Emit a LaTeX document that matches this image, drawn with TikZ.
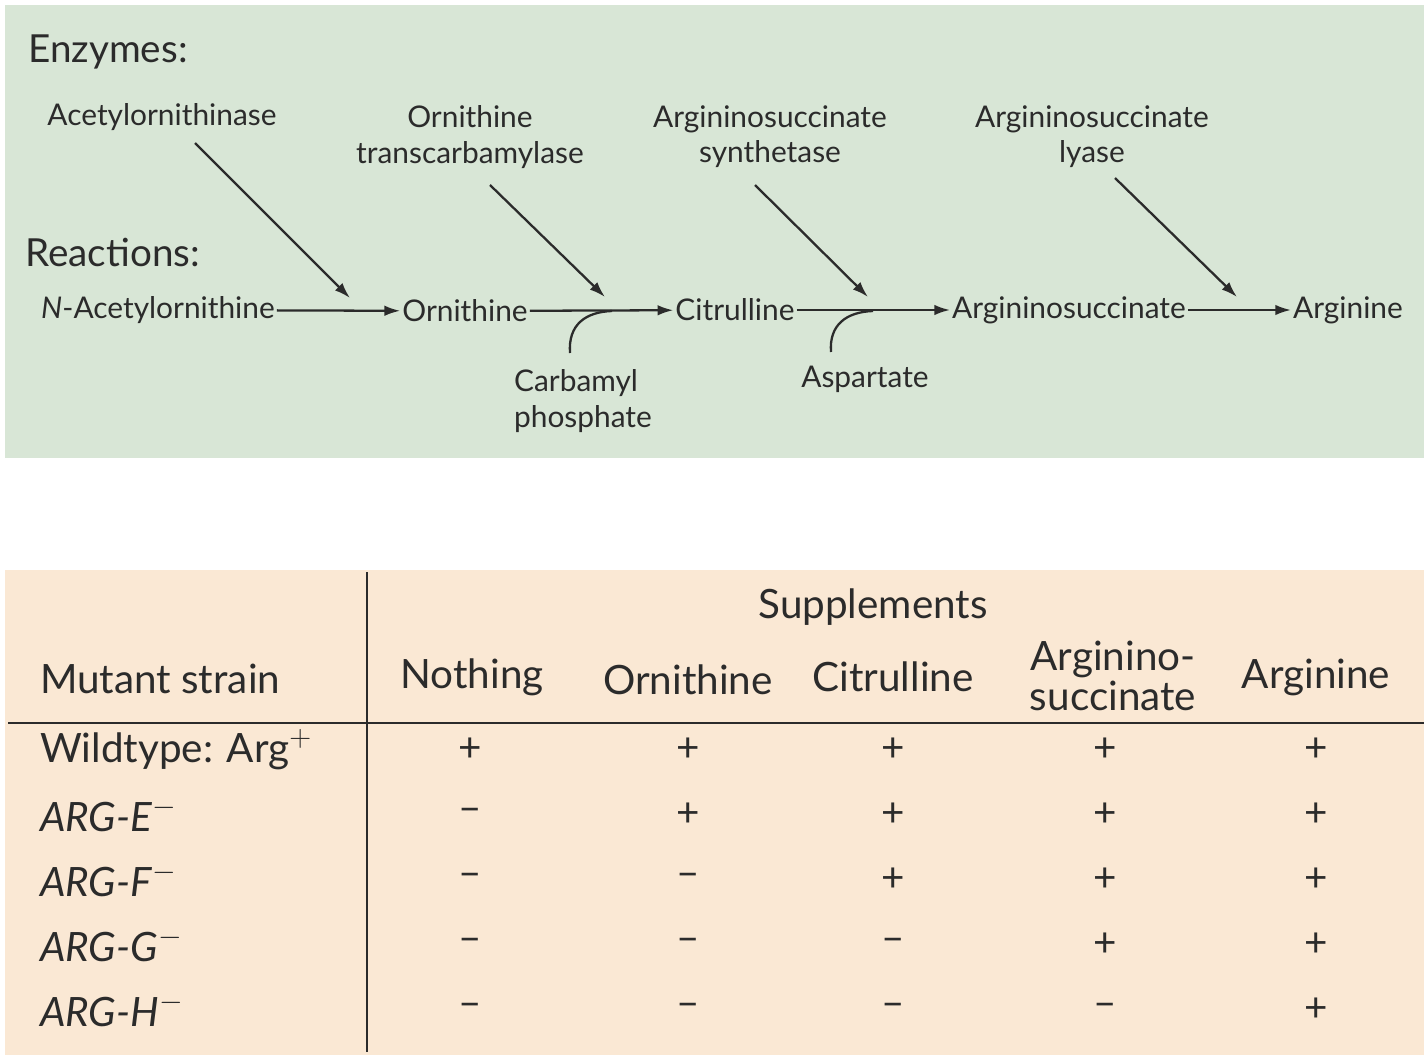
\documentclass[tikz,border=0pt]{standalone}
\usepackage{fontspec}
\setmainfont{Lato}
\usetikzlibrary{arrows.meta,positioning}
\definecolor{greenbg}{HTML}{D8E6D6}
\definecolor{beigebg}{HTML}{FAE8D4}
\definecolor{ink}{HTML}{2B2B2B}
\begin{document}
\begin{tikzpicture}[x=0.02cm,y=-0.02cm,
  txt/.style={font=\fontsize{17}{20}\selectfont,text=ink,inner sep=1pt},
  head/.style={font=\fontsize{22}{26}\selectfont,text=ink,anchor=west,inner sep=0pt},
  tab/.style={font=\fontsize{23}{27}\selectfont,text=ink,inner sep=1pt},
  arr/.style={-{Latex[length=9pt,width=6pt]},line width=1.3pt,draw=ink},
  ln/.style={line width=1.3pt,draw=ink}]
\useasboundingbox (0,0) rectangle (1424,1058);
\fill[greenbg] (5,5) rectangle (1424,458);
\fill[beigebg] (5,570) rectangle (1424,1055);

\node[head] (enz) at (28,52) {Enzymes:};
\node[head] (rea) at (25,252) {Reactions:};

\node[txt] (e1) at (162,117) {Acetylornithinase};
\node[txt,align=center] (e2) at (470,137) {Ornithine\\transcarbamylase};
\node[txt,align=center] (e3) at (770,137) {Argininosuccinate\\synthetase};
\node[txt,align=center] (e4) at (1092,137) {Argininosuccinate\\lyase};

\node[txt] (nac) at (158,310) {\textit{N}-Acetylornithine};
\node[txt] (orn) at (465,311) {Ornithine};
\node[txt] (cit) at (735,310) {Citrulline};
\node[txt] (ars) at (1069,310) {Argininosuccinate};
\node[txt] (arg) at (1348,310) {Arginine};
\node[txt,align=left,anchor=west] (cp) at (512,401) {Carbamyl\\phosphate};
\node[txt] (asp) at (865,379) {Aspartate};

\coordinate (t1) at (350,298);
\coordinate (t2) at (605,297);
\coordinate (t3) at (868,297);
\coordinate (t4) at (1237,297);
\coordinate (s2) at (195,143);
\coordinate (s3) at (490,185);
\coordinate (s4) at (755,185);
\coordinate (s5) at (1115,178);
\draw[arr] (s2) -- (t1);
\draw[arr] (s3) -- (t2);
\draw[arr] (s4) -- (t3);
\draw[arr] (s5) -- (t4);

\draw[arr] (nac) -- (orn);
\draw[arr] (orn) -- (cit);
\draw[arr] (cit) -- (ars);
\draw[arr] (ars) -- (arg);
\coordinate (c2) at (570,353);
\coordinate (c3) at (831,352);
\draw[ln] (c2) .. controls (568,325) and (585,312) .. (612,311);
\draw[ln] (c3) .. controls (829,325) and (846,312) .. (873,311);

\draw[ln,line width=1.6pt] (367,572) -- (367,1052);
\draw[ln,line width=1.6pt] (8,723) -- (1424,723);
\node[tab] (sup) at (873,607) {Supplements};
\node[tab,anchor=west] (ms) at (38,679) {Mutant strain};
\node[tab] (h1) at (472,677) {Nothing};
\node[tab] (h2) at (688,680) {Ornithine};
\node[tab] (h3) at (893,677) {Citrulline};
\node[tab,align=center] (h4) at (1113,676) {Arginino-\\[-4pt]succinate};
\node[tab] (h5) at (1316,677) {Arginine};

\foreach \lab [count=\r] in {Wildtype: Arg$^{+}$,\textit{ARG-E}$^{-}$,\textit{ARG-F}$^{-}$,\textit{ARG-G}$^{-}$,\textit{ARG-H}$^{-}$}
  \node[tab,anchor=west] (row\r) at (38,750+65*\r-65) {\lab};

\foreach \row [count=\r] in {{+,+,+,+,+},{--,+,+,+,+},{--,--,+,+,+},{--,--,--,+,+},{--,--,--,--,+}}
  \foreach \v [count=\c] in \row {
    \pgfmathsetmacro{\xx}{{0,470,688,893,1105,1316}[\c]}
    \node[tab] (v\r\c) at (\xx,750+65*\r-65) {\v};
  }
\end{tikzpicture}
\end{document}
